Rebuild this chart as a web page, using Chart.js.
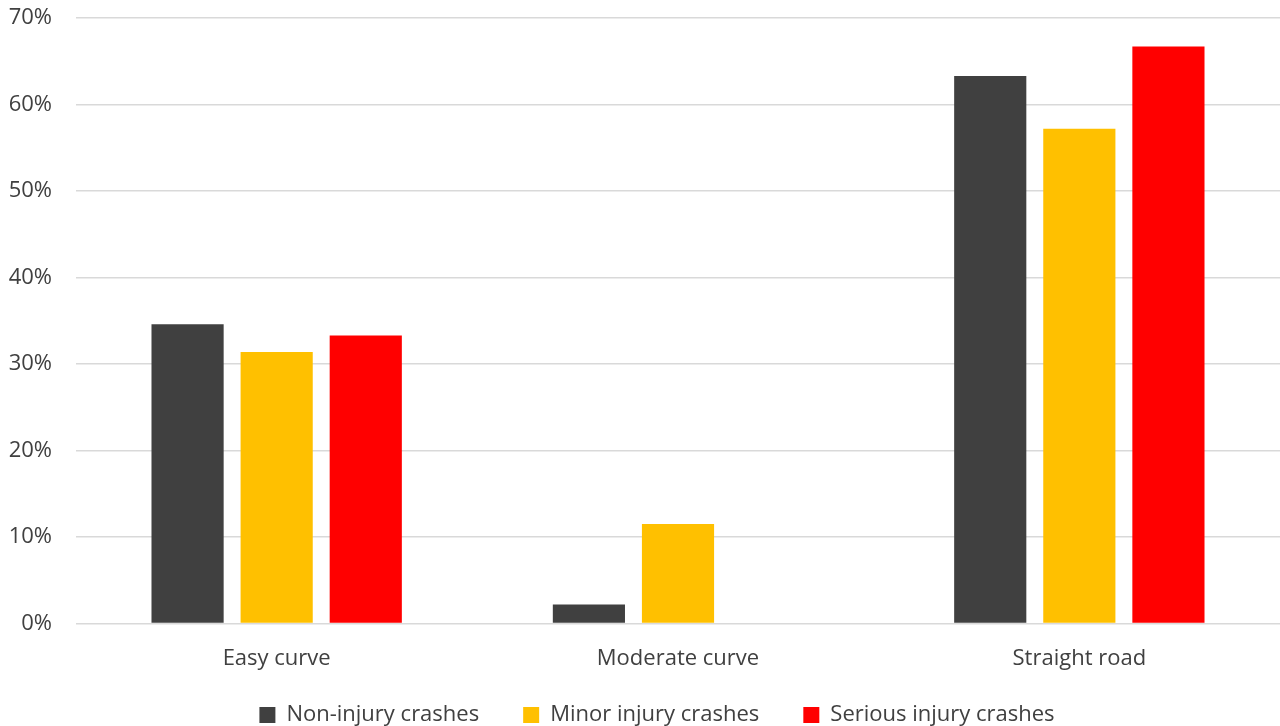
<!DOCTYPE html>
<html>
<head>
<meta charset="utf-8">
<script src="https://cdn.jsdelivr.net/npm/chart.js@4"></script>
<style>
  html, body { margin: 0; padding: 0; background: #fff; }
  #wrap { width: 1280px; height: 726px; }
</style>
</head>
<body>
<div id="wrap"><canvas id="grafico"></canvas></div>
<script>
var categorias = ["Easy curve", "Moderate curve", "Straight road"];
var nonInjury = [34.6, 2.2, 63.3];
var minorInjury = [31.4, 11.5, 57.2];
var seriousInjury = [33.3, 0, 66.7];
var yTicks = [0, 10, 20, 30, 40, 50, 60, 70];

var fuente = "'Open Sans', 'Noto Sans', sans-serif";

Chart.defaults.font.family = fuente;
Chart.defaults.color = "#595959";

function sinRecorte() { return null; }

new Chart(document.getElementById("grafico"), {
  type: "bar",
  data: {
    labels: categorias,
    datasets: [
      { label: "Non-injury crashes", data: nonInjury, backgroundColor: "#404040" },
      { label: "Minor injury crashes", data: minorInjury, backgroundColor: "#FFC000" },
      { label: "Serious injury crashes", data: seriousInjury, backgroundColor: "#FF0000" }
    ]
  },
  options: {
    responsive: true,
    maintainAspectRatio: false,
    animation: false,
    // el margen izquierdo centra la leyenda como en el original
    layout: { padding: { top: 0, right: 0, left: 34, bottom: -10 } },
    datasets: {
      bar: { categoryPercentage: 0.666, barPercentage: 0.81 }
    },
    plugins: {
      legend: {
        position: "bottom",
        labels: {
          boxWidth: 16,
          boxHeight: 16,
          padding: 44,
          color: "#404040",
          font: { size: 22 }
        }
      },
      tooltip: { enabled: false }
    },
    scales: {
      x: {
        grid: { display: false },
        border: { display: false },
        afterFit: function (axis) {
          // el eje se come parte del hueco de la leyenda, sin recortar las etiquetas
          axis.height = axis.height - 26;
          axis._computeLabelArea = sinRecorte;
        },
        ticks: { font: { size: 22 }, color: "#404040", padding: 14 }
      },
      y: {
        min: 0,
        max: 70,
        afterBuildTicks: function (axis) {
          axis.ticks = yTicks.map(function (v) { return { value: v }; });
        },
        afterFit: function (axis) {
          axis.width = 42;
          axis.paddingTop = 18;
          axis.paddingBottom = 0;
          axis._computeLabelArea = sinRecorte;
        },
        grid: { color: "#d9d9d9", lineWidth: 1.5, drawTicks: false },
        border: { display: false },
        ticks: {
          font: { size: 22 },
          color: "#404040",
          padding: 24,
          callback: function (v) { return v + "%"; }
        }
      }
    }
  }
});
</script>
</body>
</html>
